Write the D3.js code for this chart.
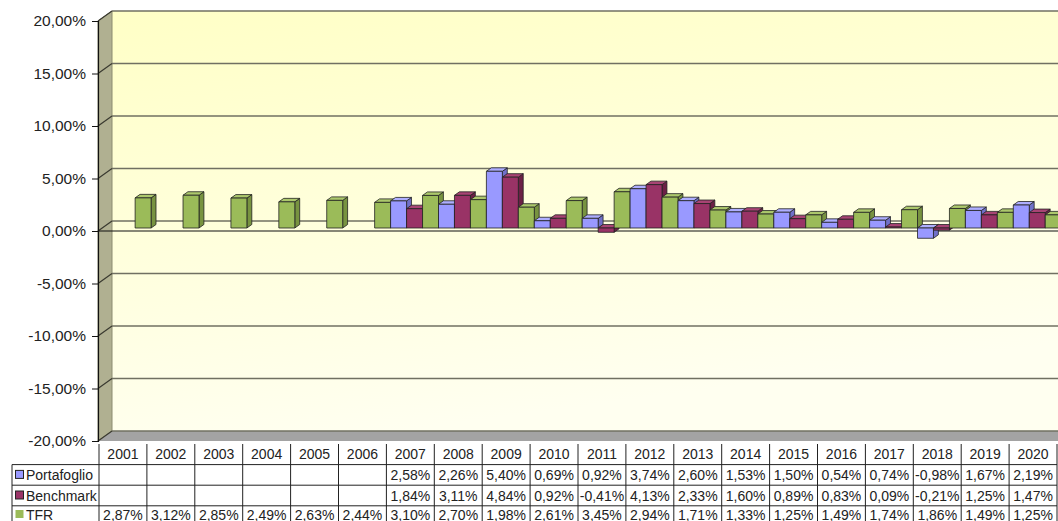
<!DOCTYPE html>
<html>
<head>
<meta charset="utf-8">
<script src="https://cdn.jsdelivr.net/npm/d3@7"></script>
<style>
  body { margin: 0; background: #fff; }
  svg { display: block; font-family: "Liberation Sans", Arial, sans-serif; }
</style>
</head>
<body>
<div id="chart"></div>
<script>
var width = 1058,
    height = 521;

// data
var years = ["2001", "2002", "2003", "2004", "2005", "2006", "2007", "2008", "2009", "2010",
             "2011", "2012", "2013", "2014", "2015", "2016", "2017", "2018", "2019", "2020"];
var portafoglio = [null, null, null, null, null, null, 2.58, 2.26, 5.40, 0.69,
                   0.92, 3.74, 2.60, 1.53, 1.50, 0.54, 0.74, -0.98, 1.67, 2.19];
var benchmark = [null, null, null, null, null, null, 1.84, 3.11, 4.84, 0.92,
                 -0.41, 4.13, 2.33, 1.60, 0.89, 0.83, 0.09, -0.21, 1.25, 1.47];
var tfr = [2.87, 3.12, 2.85, 2.49, 2.63, 2.44, 3.10, 2.70, 1.98, 2.61,
           3.45, 2.94, 1.71, 1.33, 1.25, 1.49, 1.74, 1.86, 1.49, 1.25];
var yTicks = [-20, -15, -10, -5, 0, 5, 10, 15, 20];

var series = [
  { name: "Portafoglio", values: portafoglio, front: "#9999ff", top: "#aeaeff", side: "#7070c8", key: true },
  { name: "Benchmark", values: benchmark, front: "#993366", top: "#a84474", side: "#6c2046", key: true },
  { name: "TFR", values: tfr, front: "#9bbb59", top: "#acc86c", side: "#789340", key: false }
];

// italian number style, plain hyphen for negatives
var itLocale = d3.formatLocale({ decimal: ",", thousands: ".", grouping: [3], currency: ["", "€"], minus: "-" });
var f2 = itLocale.format(".2f");
var fmt = function(v) {
  if (v == null) return "";
  return f2(v) + "%";
};

// geometry of the oblique 3d box
var axisX = 98,
    depth = { dx: 14, dy: -10 },
    barOff = { dx: 4.2, dy: -3 },
    barDepth = { dx: 4.9, dy: -3.5 },
    plotRight = 1062;

var y = d3.scaleLinear().domain([-20, 20]).range([441, 21]);
var x = d3.scaleBand().domain(years).range([99, 1057]).paddingInner(0).paddingOuter(0);
var xs = d3.scaleBand().domain(series.map(function(s){ return s.name; })).range([0, x.bandwidth()]);

var svg = d3.select("#chart").append("svg")
    .attr("width", width)
    .attr("height", height);

var defs = svg.append("defs");
var grad = defs.append("linearGradient").attr("id", "wall")
    .attr("x1", "0").attr("y1", "0").attr("x2", "0.3").attr("y2", "1");
grad.append("stop").attr("offset", "0").attr("stop-color", "#ffffc6");
grad.append("stop").attr("offset", "1").attr("stop-color", "#fffff0");

// back wall
svg.append("rect")
    .attr("x", axisX + depth.dx).attr("y", y(20) + depth.dy)
    .attr("width", plotRight - axisX - depth.dx)
    .attr("height", y(-20) - y(20))
    .style("fill", "url(#wall)");

// side wall
svg.append("polygon")
    .attr("points", [[axisX, y(20)], [axisX + depth.dx, y(20) + depth.dy],
                     [axisX + depth.dx, y(-20) + depth.dy], [axisX, y(-20)]].join(" "))
    .style("fill", "#b0b091").style("stroke", "#8c8c70").style("stroke-width", 1);

// floor
svg.append("polygon")
    .attr("points", [[axisX, y(-20)], [axisX + depth.dx, y(-20) + depth.dy],
                     [plotRight, y(-20) + depth.dy], [plotRight, y(-20)]].join(" "))
    .style("fill", "#a3a3a3");

// gridlines on back wall and side wall
var grid = svg.append("g");
grid.selectAll("line.back").data(yTicks).enter().append("line")
    .attr("class", "back")
    .attr("x1", axisX + depth.dx).attr("x2", plotRight)
    .attr("y1", function(d){ return y(d) + depth.dy; })
    .attr("y2", function(d){ return y(d) + depth.dy; })
    .style("stroke", "#707062").style("stroke-width", 1.6);
grid.selectAll("line.side").data(yTicks).enter().append("line")
    .attr("class", "side")
    .attr("x1", axisX).attr("y1", function(d){ return y(d); })
    .attr("x2", axisX + depth.dx).attr("y2", function(d){ return y(d) + depth.dy; })
    .style("stroke", "#3a3a30").style("stroke-width", 1.2);

// category axis line at 0 (front)
svg.append("line")
    .attr("x1", axisX).attr("x2", plotRight)
    .attr("y1", y(0)).attr("y2", y(0))
    .style("stroke", "#111").style("stroke-width", 1.2);

// bars, drawn left to right so that 3d faces overlap properly
var bars = [];
years.forEach(function(yr, i){
  series.forEach(function(s){
    var v = s.values[i];
    if (v == null) return;
    bars.push({ year: yr, s: s, v: v });
  });
});

var barG = svg.append("g");
bars.forEach(function(b){
  var x0 = x(b.year) + xs(b.s.name) + barOff.dx,
      w = xs.bandwidth(),
      yTop = Math.min(y(0), y(b.v)) + barOff.dy,
      yBot = Math.max(y(0), y(b.v)) + barOff.dy,
      ddx = barDepth.dx, ddy = barDepth.dy;
  var g = barG.append("g").style("stroke", "#222").style("stroke-width", 0.8).style("stroke-linejoin", "round");
  // side face
  g.append("polygon")
    .attr("points", [[x0 + w, yTop], [x0 + w + ddx, yTop + ddy], [x0 + w + ddx, yBot + ddy], [x0 + w, yBot]].join(" "))
    .style("fill", b.s.side);
  // top face
  g.append("polygon")
    .attr("points", [[x0, yTop], [x0 + ddx, yTop + ddy], [x0 + w + ddx, yTop + ddy], [x0 + w, yTop]].join(" "))
    .style("fill", b.s.top);
  // front face
  g.append("rect")
    .attr("x", x0).attr("y", yTop)
    .attr("width", w).attr("height", Math.max(yBot - yTop, 0.5))
    .style("fill", b.s.front);
});

// value axis
var yAxis = d3.axisLeft(y)
    .tickValues(yTicks)
    .tickSize(6)
    .tickPadding(6)
    .tickFormat(function(d){ return fmt(d); });
var ax = svg.append("g")
    .attr("transform", "translate(" + axisX + ",0)")
    .call(yAxis);
ax.select(".domain").style("stroke", "#111").style("stroke-width", 1.2);
ax.selectAll(".tick line").style("stroke", "#111");
ax.selectAll(".tick text")
    .style("font-size", "15.5px")
    .style("fill", "#222")
    .style("font-family", "Liberation Sans, Arial, sans-serif");

// data table
var tableTop = 444,
    rowH = 20.6,
    keyLeft = 12;
var table = svg.append("g").style("font-size", "14px").style("fill", "#222");
var tableLine = function(x1, y1, x2, y2) {
  table.append("line").attr("x1", x1).attr("y1", y1).attr("x2", x2).attr("y2", y2)
    .style("stroke", "#222").style("stroke-width", 1);
};
var bottom = tableTop + rowH * 4;
var rowText = function(r) { return Math.min(tableTop + rowH * r + rowH / 2 + 5, height - 1.5); };

// vertical column borders
x.domain().forEach(function(yr){ tableLine(x(yr), tableTop, x(yr), bottom); });
tableLine(x.range()[1], tableTop, x.range()[1], bottom);
tableLine(keyLeft, tableTop + rowH, keyLeft, bottom);
// horizontal row borders
for (var r = 1; r <= 3; r++) {
  tableLine(keyLeft, tableTop + rowH * r, x.range()[1], tableTop + rowH * r);
}

// header years
table.selectAll("text.yr").data(years).enter().append("text")
    .attr("class", "yr")
    .attr("x", function(d){ return x(d) + x.bandwidth() / 2; })
    .attr("y", rowText(0))
    .attr("text-anchor", "middle")
    .text(function(d){ return d; });

series.forEach(function(s, si){
  var ty = rowText(si + 1);
  // legend key
  table.append("rect")
    .attr("x", 15.5).attr("y", ty - 9.5)
    .attr("width", 8).attr("height", 8)
    .style("fill", s.front)
    .style("stroke", s.key ? "#222" : "none")
    .style("stroke-width", 1);
  table.append("text")
    .attr("x", 26).attr("y", ty)
    .text(s.name);
  table.selectAll("text.v" + si).data(s.values).enter().append("text")
    .attr("class", "v" + si)
    .attr("x", function(d, i){ return x(years[i]) + x.bandwidth() / 2; })
    .attr("y", ty)
    .attr("text-anchor", "middle")
    .text(function(d){ return fmt(d); });
});
</script>
</body>
</html>
